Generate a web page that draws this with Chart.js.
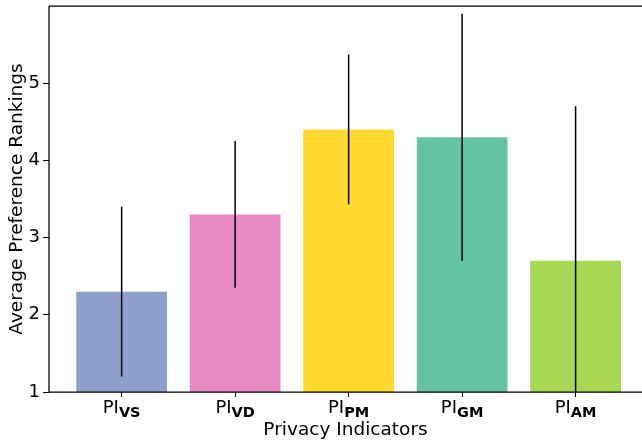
<!DOCTYPE html>
<html>
<head>
<meta charset="utf-8">
<script src="https://cdn.jsdelivr.net/npm/chart.js@4.4.0/dist/chart.umd.min.js"></script>
<style>
  html, body { margin: 0; padding: 0; background: #fff; }
</style>
</head>
<body>
<canvas id="chart" width="642" height="443"></canvas>
<script>
const indicators = ['VS', 'VD', 'PM', 'GM', 'AM'];
const rankings = [2.3, 3.3, 4.4, 4.3, 2.7];
const errors = [1.1, 0.95, 0.97, 1.6, 2.0];
const colors = ['#8da0cb', '#e78ac3', '#ffd92f', '#66c2a5', '#a6d854'];
const yTicks = [1, 2, 3, 4, 5];

const FONT = 'DejaVu Sans';
Chart.defaults.font.family = FONT;
Chart.defaults.color = '#000';

// error bars, spines and the PI_xx tick labels (subscripts need manual drawing)
const decor = {
  id: 'decor',
  afterDatasetsDraw(chart) {
    const { ctx, chartArea: a, scales: { x, y } } = chart;
    ctx.save();
    ctx.beginPath();
    ctx.rect(a.left, a.top, a.right - a.left, a.bottom - a.top);
    ctx.clip();
    ctx.strokeStyle = '#000';
    ctx.lineWidth = 1.5;
    rankings.forEach((v, i) => {
      const px = x.getPixelForValue(i);
      ctx.beginPath();
      ctx.moveTo(px, y.getPixelForValue(v - errors[i]));
      ctx.lineTo(px, y.getPixelForValue(v + errors[i]));
      ctx.stroke();
    });
    ctx.restore();
  },
  afterDraw(chart) {
    const { ctx, chartArea: a, scales: { x } } = chart;
    ctx.save();
    ctx.strokeStyle = '#000';
    ctx.lineWidth = 1.25;
    ctx.beginPath();
    ctx.moveTo(a.left, a.top);
    ctx.lineTo(a.left, a.bottom);
    ctx.lineTo(a.right, a.bottom);
    ctx.moveTo(a.left, a.top);
    ctx.lineTo(a.right, a.top);
    ctx.stroke();

    ctx.fillStyle = '#000';
    ctx.textBaseline = 'alphabetic';
    ctx.textAlign = 'left';
    indicators.forEach((sub, i) => {
      ctx.font = `18px "${FONT}"`;
      const w1 = ctx.measureText('PI').width;
      ctx.font = `bold 14.5px "${FONT}"`;
      const w2 = ctx.measureText(sub).width;
      const x0 = x.getPixelForValue(i) - (w1 + w2) / 2;
      ctx.font = `18px "${FONT}"`;
      ctx.fillText('PI', x0, a.bottom + 21);
      ctx.font = `bold 14.5px "${FONT}"`;
      ctx.fillText(sub, x0 + w1, a.bottom + 25);
    });
    ctx.restore();
  }
};

new Chart(document.getElementById('chart'), {
  type: 'bar',
  data: {
    datasets: [{
      data: rankings.map((v, i) => ({ x: i, y: v })),
      backgroundColor: colors,
      borderWidth: 0,
      barPercentage: 0.8,
      categoryPercentage: 1
    }]
  },
  options: {
    responsive: false,
    animation: false,
    devicePixelRatio: 1,
    layout: { padding: { top: 6, right: 0, bottom: 0, left: 0 } },
    plugins: {
      legend: { display: false },
      tooltip: { enabled: false }
    },
    scales: {
      x: {
        type: 'linear',
        min: -0.64,
        max: 4.585,
        offset: false,
        afterBuildTicks: s => { s.ticks = indicators.map((_, i) => ({ value: i })); },
        ticks: { display: false },
        grid: { offset: false, drawOnChartArea: false, drawTicks: true, tickLength: 5, color: '#000', lineWidth: 1 },
        border: { display: false },
        title: {
          display: true,
          text: 'Privacy Indicators',
          color: '#000',
          font: { size: 18.5, lineHeight: 1 },
          padding: { top: 0, bottom: 4 }
        },
        afterFit: s => { s.height = 51; s.paddingLeft = 0; s.paddingRight = 0; }
      },
      y: {
        min: 1,
        max: 6,
        afterBuildTicks: s => { s.ticks = yTicks.map(v => ({ value: v })); },
        ticks: { color: '#000', font: { size: 18 }, padding: 3 },
        grid: { drawOnChartArea: false, drawTicks: true, tickLength: 6, color: '#000', lineWidth: 1 },
        border: { display: false },
        title: {
          display: true,
          text: 'Average Preference Rankings',
          color: '#000',
          font: { size: 18.5, lineHeight: 1 },
          padding: { top: 8, bottom: 0 }
        },
        afterFit: s => { s.width = 49; s.paddingTop = 0; s.paddingBottom = 0; }
      }
    }
  },
  plugins: [decor]
});
</script>
</body>
</html>
